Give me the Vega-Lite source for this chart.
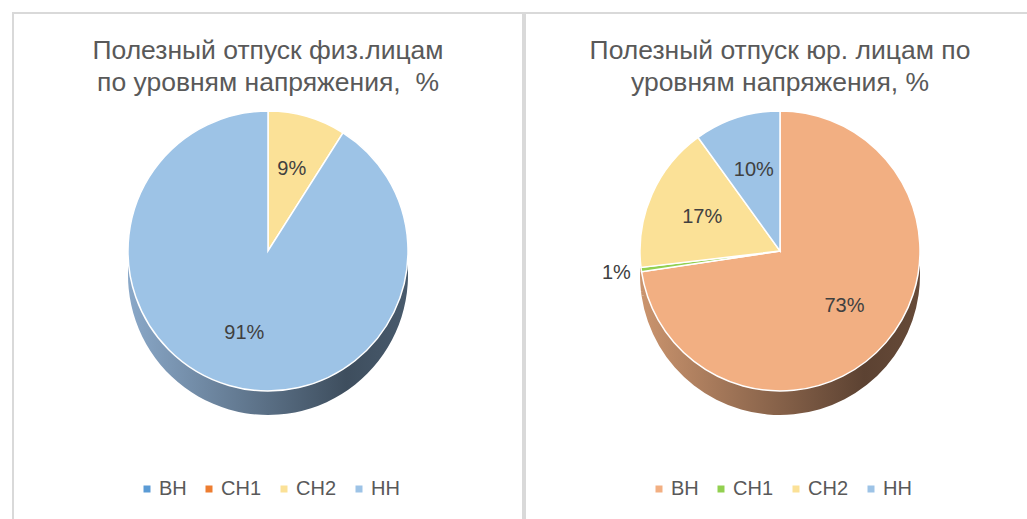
{
  "$schema": "https://vega.github.io/schema/vega-lite/v6.json",
  "padding": {"left": 12, "top": 12, "right": 0, "bottom": 0},
  "background": "white",
  "config": {
    "font": "Liberation Sans",
    "concat": {"spacing": 0},
    "title": {"fontSize": 26.5, "fontWeight": "normal", "color": "#595959", "anchor": "middle", "frame": "group", "baseline": "bottom", "offset": -83, "lineHeight": 32},
    "legend": {"symbolType": "square", "symbolSize": 49, "symbolStrokeWidth": 0, "labelFontSize": 20, "labelColor": "#595959", "labelOffset": 2, "columnPadding": 12, "labelLimit": 200}
  },
  "datasets": {
    "fiz": [
      {"cat": "ВН", "v": 0, "i": 1},
      {"cat": "СН1", "v": 0, "i": 2},
      {"cat": "СН2", "v": 0.09, "i": 3},
      {"cat": "НН", "v": 0.91, "i": 4}
    ],
    "jur": [
      {"cat": "ВН", "v": 0.73, "i": 1},
      {"cat": "СН1", "v": 0.005, "i": 2},
      {"cat": "СН2", "v": 0.17, "i": 3},
      {"cat": "НН", "v": 0.10, "i": 4}
    ]
  },
  "hconcat": [
    {
      "width": 510,
      "height": 520,
      "view": {"stroke": "#d9d9d9", "strokeWidth": 2},
      "title": {"text": ["Полезный отпуск физ.лицам", "по уровням напряжения,\u00a0 %"]},
      "data": {"name": "fiz"},
      "encoding": {
        "theta": {"field": "v", "type": "quantitative", "stack": true},
        "order": {"field": "i", "type": "quantitative"}
      },
      "layer": [
        {"mark": {"type": "arc", "radius": 140, "yOffset": 2, "fill": {"gradient": "linear", "x1": 0, "x2": 1, "y1": 0, "y2": 0, "stops": [{"offset": 0, "color": "#8aa8c8"}, {"offset": 0.78, "color": "#3e4e5e"}, {"offset": 1, "color": "#485a6c"}]}}},
        {"mark": {"type": "arc", "radius": 140, "yOffset": -10, "fill": {"gradient": "linear", "x1": 0, "x2": 1, "y1": 0, "y2": 0, "stops": [{"offset": 0, "color": "#8aa8c8"}, {"offset": 0.78, "color": "#3e4e5e"}, {"offset": 1, "color": "#485a6c"}]}}},
        {
          "mark": {"type": "arc", "radius": 140, "yOffset": -22, "stroke": "white", "strokeWidth": 1.5},
          "encoding": {
            "color": {"field": "cat", "type": "nominal", "sort": null,
              "scale": {"domain": ["ВН", "СН1", "СН2", "НН"], "range": ["#5B9BD5", "#ED7D31", "#FBE197", "#9DC3E6"]},
              "legend": {"orient": "none", "legendX": 124, "legendY": 466, "direction": "horizontal", "title": null}}
          }
        },
        {
          "mark": {"type": "text", "radius": 85, "yOffset": -22, "fontSize": 20, "color": "#404040"},
          "encoding": {"text": {"condition": {"test": "datum.v >= 0.05", "field": "v", "format": ".0%"}, "value": ""}}
        }
      ]
    },
    {
      "width": 510,
      "height": 520,
      "view": {"stroke": "#d9d9d9", "strokeWidth": 2},
      "title": {"text": ["Полезный отпуск юр. лицам по", "уровням напряжения, %"]},
      "data": {"name": "jur"},
      "encoding": {
        "theta": {"field": "v", "type": "quantitative", "stack": true},
        "order": {"field": "i", "type": "quantitative"}
      },
      "layer": [
        {"mark": {"type": "arc", "radius": 140, "yOffset": 2, "fill": {"gradient": "linear", "x1": 0, "x2": 1, "y1": 0, "y2": 0, "stops": [{"offset": 0, "color": "#ca946e"}, {"offset": 0.8, "color": "#5c4232"}, {"offset": 1, "color": "#664a38"}]}}},
        {"mark": {"type": "arc", "radius": 140, "yOffset": -10, "fill": {"gradient": "linear", "x1": 0, "x2": 1, "y1": 0, "y2": 0, "stops": [{"offset": 0, "color": "#ca946e"}, {"offset": 0.8, "color": "#5c4232"}, {"offset": 1, "color": "#664a38"}]}}},
        {
          "mark": {"type": "arc", "radius": 140, "yOffset": -22, "stroke": "white", "strokeWidth": 1.5},
          "encoding": {
            "color": {"field": "cat", "type": "nominal", "sort": null,
              "scale": {"domain": ["ВН", "СН1", "СН2", "НН"], "range": ["#F2AF82", "#92D050", "#FBE197", "#9DC3E6"]},
              "legend": {"orient": "none", "legendX": 124, "legendY": 466, "direction": "horizontal", "title": null}}
          }
        },
        {
          "mark": {"type": "text", "radius": 85, "yOffset": -22, "fontSize": 20, "color": "#404040"},
          "encoding": {"text": {"condition": {"test": "datum.v >= 0.05", "field": "v", "format": ".0%"}, "value": ""}}
        },
        {
          "mark": {"type": "text", "radius": 165, "yOffset": -22, "fontSize": 20, "color": "#404040"},
          "encoding": {"text": {"condition": {"test": "datum.v > 0 && datum.v < 0.05", "field": "v", "format": ".0%"}, "value": ""}}
        }
      ]
    }
  ],
  "resolve": {"scale": {"color": "independent", "theta": "independent"}, "legend": {"color": "independent"}}
}
